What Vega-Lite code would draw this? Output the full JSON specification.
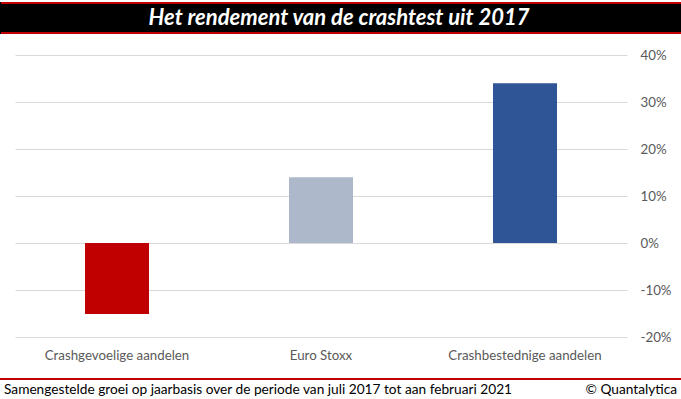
{
  "$schema": "https://vega.github.io/schema/vega-lite/v6.json",
  "width": 612,
  "height": 282,
  "autosize": {"type": "none"},
  "padding": {"left": 15, "top": 55, "right": 54, "bottom": 62},
  "background": "white",
  "config": {
    "view": {"stroke": null},
    "font": "Lato",
    "axis": {"labelFont": "Lato", "labelColor": "#595959", "labelFontSize": 13.3, "domain": false, "ticks": false, "title": null}
  },
  "layer": [
    {
      "data": {"values": [
        {"categorie": "Crashgevoelige aandelen", "rendement": -15.1},
        {"categorie": "Euro Stoxx", "rendement": 14.0},
        {"categorie": "Crashbestednige aandelen", "rendement": 34.0}
      ]},
      "mark": {"type": "bar", "width": 64},
      "encoding": {
        "x": {"field": "categorie", "type": "nominal", "sort": null,
          "scale": {"paddingInner": 0, "paddingOuter": 0},
          "axis": {"labelAngle": 0, "labelPadding": 11, "grid": false}},
        "y": {"field": "rendement", "type": "quantitative",
          "scale": {"domain": [-20, 40], "nice": false, "zero": true},
          "axis": {"orient": "right", "values": [-20, -10, 0, 10, 20, 30, 40], "labelExpr": "datum.value + '%'", "grid": true, "gridColor": "#D9D9D9", "labelPadding": 13}},
        "color": {"field": "categorie", "type": "nominal", "legend": null,
          "scale": {"domain": ["Crashgevoelige aandelen", "Euro Stoxx", "Crashbestednige aandelen"], "range": ["#C00000", "#ADB9CA", "#2F5597"]}}
      }
    },
    {
      "data": {"values": [{"d": 1}]},
      "mark": {"type": "rect", "fill": "black"},
      "encoding": {"x": {"value": -15}, "x2": {"value": 666}, "y": {"value": -53}, "y2": {"value": -21}}
    },
    {
      "data": {"values": [{"d": 1}]},
      "mark": {"type": "rule", "color": "#C00000", "strokeWidth": 2},
      "encoding": {"x": {"value": -14}, "x2": {"value": 666}, "y": {"value": -52}}
    },
    {
      "data": {"values": [{"d": 1}]},
      "mark": {"type": "rule", "color": "#C00000", "strokeWidth": 2},
      "encoding": {"x": {"value": -14}, "x2": {"value": 666}, "y": {"value": -22}}
    },
    {
      "data": {"values": [{"t": "Het rendement van de crashtest uit 2017"}]},
      "mark": {"type": "text", "color": "white", "font": "Lato", "fontWeight": "bold", "fontStyle": "italic", "fontSize": 22, "align": "center", "baseline": "middle"},
      "encoding": {"x": {"value": 324}, "y": {"value": -37}, "text": {"field": "t"}}
    },
    {
      "data": {"values": [{"d": 1}]},
      "mark": {"type": "rule", "color": "#C00000", "strokeWidth": 2},
      "encoding": {"x": {"value": -15}, "x2": {"value": 666}, "y": {"value": 324}}
    },
    {
      "data": {"values": [{"t": "Samengestelde groei op jaarbasis over de periode van juli 2017 tot aan februari 2021"}]},
      "mark": {"type": "text", "color": "black", "font": "Lato", "fontSize": 13.7, "align": "left", "baseline": "middle"},
      "encoding": {"x": {"value": -11}, "y": {"value": 335}, "text": {"field": "t"}}
    },
    {
      "data": {"values": [{"t": "© Quantalytica"}]},
      "mark": {"type": "text", "color": "black", "font": "Lato", "fontSize": 13.7, "align": "right", "baseline": "middle"},
      "encoding": {"x": {"value": 662}, "y": {"value": 335}, "text": {"field": "t"}}
    }
  ]
}
